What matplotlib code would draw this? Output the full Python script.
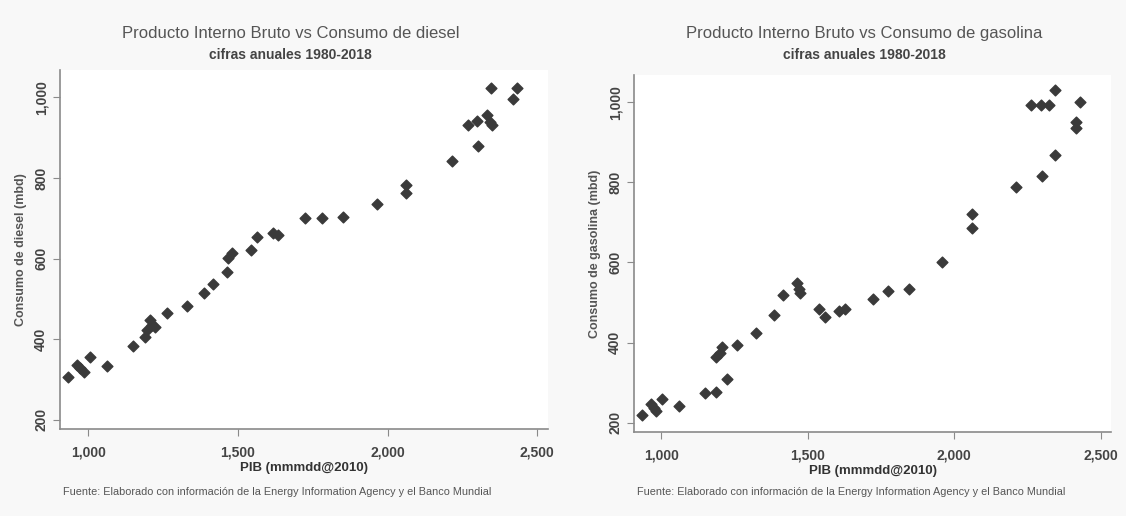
import matplotlib.pyplot as plt
from matplotlib.ticker import FuncFormatter

plt.rcParams['font.family'] = ['Liberation Sans', 'DejaVu Sans']

# PIB (mmmdd@2010) vs consumo de diesel (mbd)
pib_diesel = [933, 963, 973, 987, 1007, 1063, 1150, 1190, 1197, 1207, 1214, 1224, 1264,
              1331, 1387, 1418, 1464, 1468, 1481, 1544, 1564, 1618, 1635, 1725, 1782, 1852,
              1965, 2062, 2062, 2216, 2269, 2299, 2303, 2333, 2343, 2346, 2349, 2420, 2433]
diesel = [307, 336, 329, 319, 356, 334, 384, 406, 423, 448, 436, 431, 465,
          483, 515, 537, 567, 602, 614, 622, 654, 664, 659, 701, 701, 703,
          736, 783, 763, 842, 932, 942, 880, 956, 939, 1023, 932, 996, 1023]

# PIB (mmmdd@2010) vs consumo de gasolina (mbd)
pib_gas = [933, 963, 973, 983, 1003, 1060, 1147, 1187, 1187, 1200, 1207, 1224, 1257,
           1324, 1384, 1414, 1464, 1468, 1474, 1538, 1558, 1605, 1628, 1721, 1775, 1845,
           1959, 2059, 2059, 2212, 2263, 2296, 2299, 2323, 2343, 2343, 2416, 2416, 2430]
gasolina = [220, 248, 238, 230, 260, 243, 275, 278, 363, 375, 388, 308, 393,
            425, 470, 520, 550, 533, 525, 485, 465, 478, 483, 510, 530, 533,
            600, 720, 685, 788, 993, 993, 815, 993, 868, 1030, 935, 950, 1000]

xticks = [1000, 1500, 2000, 2500]
yticks = [200, 400, 600, 800, 1000]

paneles = [
    (pib_diesel, diesel, 'Producto Interno Bruto vs Consumo de diesel',
     'Consumo de diesel (mbd)', [0.0533, 0.1686, 0.4334, 0.696]),
    (pib_gas, gasolina, 'Producto Interno Bruto vs Consumo de gasolina',
     'Consumo de gasolina (mbd)', [0.563, 0.1628, 0.424, 0.692]),
]

fig = plt.figure(figsize=(11.26, 5.16), dpi=100, facecolor='#f8f8f8')
miles = FuncFormatter(lambda v, p: f'{v:,.0f}')

for x, y, titulo, ylab, pos in paneles:
    ax = fig.add_axes(pos)
    ax.set_facecolor('white')
    ax.scatter(x, y, marker='D', s=30, color='#3a3a3a', edgecolors='#3a3a3a', zorder=3)
    ax.set_xlim(906, 2536)
    ax.set_ylim(177, 1068)
    ax.set_xticks(xticks)
    ax.set_yticks(yticks)
    ax.xaxis.set_major_formatter(miles)
    ax.yaxis.set_major_formatter(miles)
    for s in ['top', 'right']:
        ax.spines[s].set_visible(False)
    for s in ['left', 'bottom']:
        ax.spines[s].set_color('#8a8a8a')
        ax.spines[s].set_linewidth(1.2)
    ax.tick_params(axis='both', colors='#8a8a8a', labelcolor='#444444', length=5,
                   labelsize=10)
    ax.tick_params(axis='x', pad=7)
    for lab in ax.get_xticklabels():
        lab.set_fontweight('bold')
    plt.setp(ax.get_yticklabels(), rotation=90, va='center', fontweight='bold')
    ax.set_xlabel('PIB (mmmdd@2010)', fontsize=9.5, fontweight='bold', color='#333333',
                  labelpad=2)
    ax.set_ylabel(ylab, fontsize=9, fontweight='bold', color='#555555', labelpad=5)
    cx = pos[0] + 0.4334 / 2 - 0.012
    fig.text(cx, 0.935, titulo, ha='center', va='center', fontsize=12, color='#555555')
    fig.text(cx, 0.893, 'cifras anuales 1980-2018', ha='center', va='center',
             fontsize=10, fontweight='bold', color='#444444', stretch='condensed')
    fig.text(cx - 0.012, 0.047,
             'Fuente: Elaborado con información de la Energy Information Agency y el Banco Mundial',
             ha='center', va='center', fontsize=7.8, color='#555555')

fig.savefig('out.png', dpi=100, facecolor=fig.get_facecolor())
